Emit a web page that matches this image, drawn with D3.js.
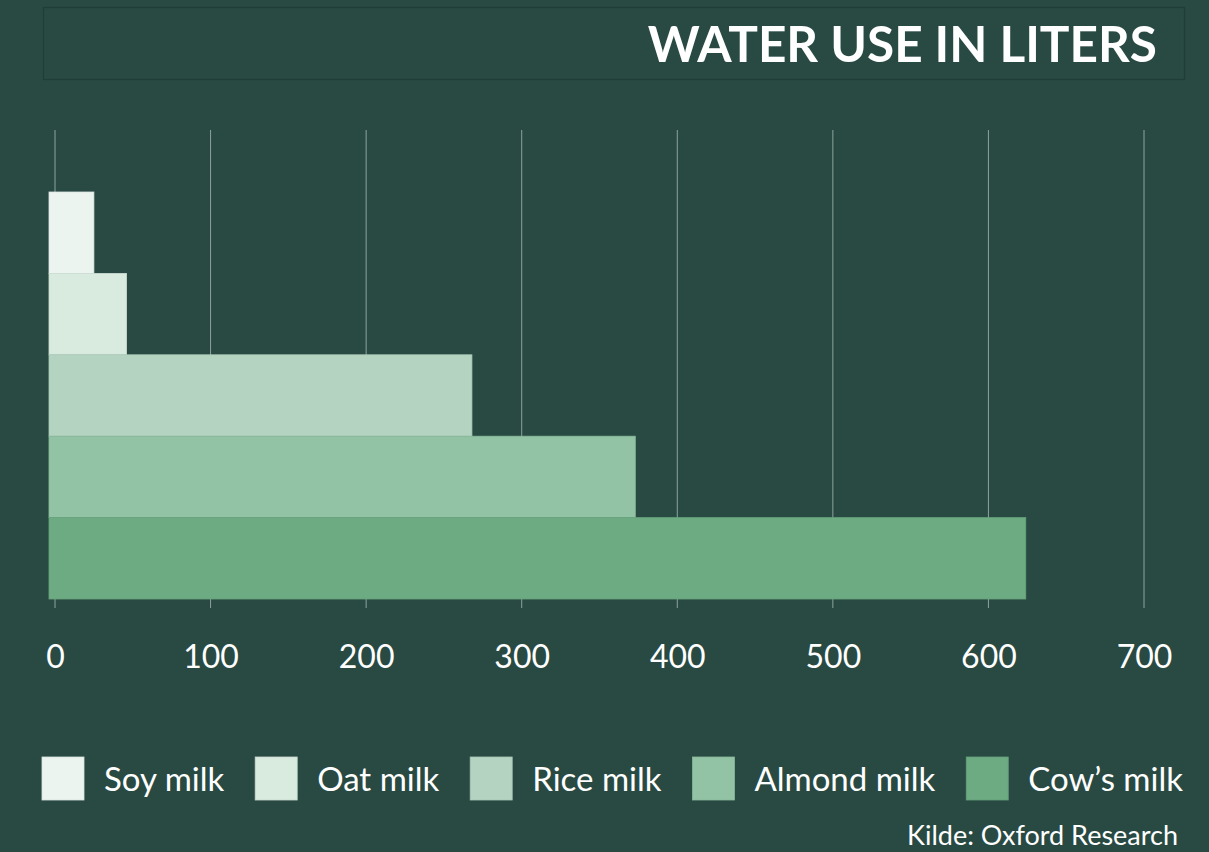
<!DOCTYPE html>
<html>
<head>
<meta charset="utf-8">
<script src="https://cdn.jsdelivr.net/npm/d3@7"></script>
<style>
  body { margin: 0; background: #294a43; }
  svg { display: block; }
  text { font-family: Lato, "Open Sans", sans-serif; fill: #ffffff; }
</style>
</head>
<body>
<div id="chart"></div>
<script>
// data
var milks  = ["Soy milk", "Oat milk", "Rice milk", "Almond milk", "Cow\u2019s milk"];
var liters = [25, 46, 268, 373, 624];
var colors = ["#ebf4ee", "#d9eadf", "#b4d4c1", "#93c3a5", "#6dab83"];
var ticks  = [0, 100, 200, 300, 400, 500, 600, 700];

var width = 1209, height = 852;

var svg = d3.select("#chart").append("svg")
    .attr("width", width)
    .attr("height", height);

svg.append("rect")
    .attr("width", width).attr("height", height)
    .attr("fill", "#294a43");

// header box
svg.append("rect")
    .attr("x", 43.5).attr("y", 7.5)
    .attr("width", 1141).attr("height", 72)
    .attr("fill", "none")
    .attr("stroke", "#213d37")
    .attr("stroke-width", 1.2);

var title = svg.append("text")
    .attr("x", 1157).attr("y", 62)
    .attr("text-anchor", "end")
    .style("font-size", "52px")
    .style("font-weight", 700)
    .text("WATER USE IN LITERS");
// squeeze title to the width in the picture
var tw = title.node().getComputedTextLength();
if (tw > 0) title.style("font-size", (52 * 509 / tw).toFixed(1) + "px");

var x = d3.scaleLinear().domain([0, 700]).range([55, 1144]);
var y = d3.scaleBand().domain(milks).range([192, 599]).padding(0);
var color = d3.scaleOrdinal().domain(milks).range(colors);

// gridlines
svg.append("g")
    .selectAll("line")
    .data(ticks)
    .enter().append("line")
    .attr("x1", function(d) { return x(d); })
    .attr("x2", function(d) { return x(d); })
    .attr("y1", 130).attr("y2", 608)
    .attr("stroke", "#8fa39d")
    .attr("stroke-width", 1);

// bars
svg.append("g")
    .selectAll("rect")
    .data(milks)
    .enter().append("rect")
    .attr("x", x(0) - 6)
    .attr("y", function(d) { return y(d); })
    .attr("width", function(d, i) { return x(liters[i]) - x(0) + 6; })
    .attr("height", y.bandwidth())
    .attr("fill", function(d) { return color(d); })
    .attr("stroke", function(d) { return d3.color(color(d)).darker(0.15); })
    .attr("stroke-width", 0.8);

// axis labels
var axis = d3.axisBottom(x).tickValues(ticks).tickSize(0).tickPadding(0);
var ax = svg.append("g")
    .attr("transform", "translate(0,668)")
    .call(axis);
ax.select(".domain").remove();
ax.selectAll("text")
    .style("font-size", "32px")
    .attr("fill", "#ffffff")
    .attr("y", 0)
    .attr("dy", 0);

// legend
var legend = svg.append("g").attr("transform", "translate(0,757)");
var item = legend.selectAll("g")
    .data(milks)
    .enter().append("g");
item.append("rect")
    .attr("width", 42).attr("height", 43)
    .attr("fill", function(d) { return color(d); })
    .attr("stroke", function(d) { return d3.color(color(d)).darker(0.2); })
    .attr("stroke-width", 0.8);
item.append("text")
    .attr("x", 62).attr("y", 34)
    .style("font-size", "33px")
    .text(function(d) { return d; });

// spread the legend items across the chart width
var widths = [];
item.each(function() { widths.push(62 + d3.select(this).select("text").node().getComputedTextLength()); });
var total = d3.sum(widths);
var gap = (1183 - 42 - total) / (milks.length - 1);
var pos = 42;
item.attr("transform", function(d, i) {
    var t = "translate(" + pos + ",0)";
    pos += widths[i] + gap;
    return t;
});

// source
svg.append("text")
    .attr("x", 1178).attr("y", 845)
    .attr("text-anchor", "end")
    .style("font-size", "27px")
    .text("Kilde: Oxford Research");
</script>
</body>
</html>
